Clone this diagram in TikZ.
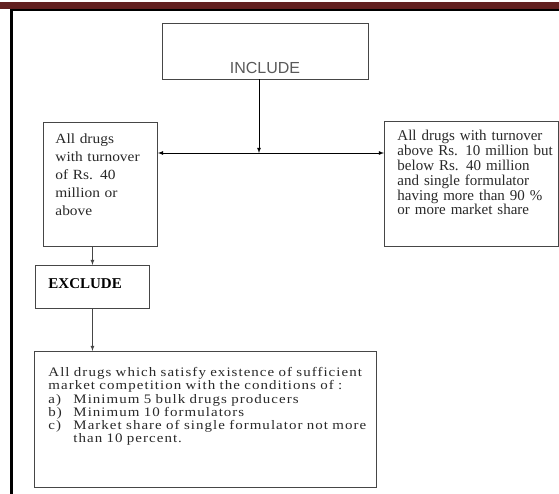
\documentclass[tikz,border=0pt]{standalone}
\usepackage{fontspec}
\setmainfont{Liberation Serif}
\newfontfamily\incfont{Liberation Sans}
\newfontfamily\leftfont[FakeStretch=1.1]{Liberation Serif}
\newfontfamily\compfont[FakeStretch=1.15,LetterSpace=8]{Liberation Serif}
\usetikzlibrary{arrows, positioning}
\definecolor{framered}{RGB}{98,32,32}
\definecolor{boxgray}{RGB}{70,70,70}
\definecolor{inkgray}{RGB}{40,40,40}
\tikzset{
  drugbox/.style={rectangle, draw=boxgray, line width=0.9pt, inner ysep=0pt, anchor=north west, align=left, text=inkgray},
  flowarrow/.style={draw=black, line width=0.8pt, -latex}
}

\begin{document}
\begin{tikzpicture}[x=1pt, y=-1pt]
\useasboundingbox (0,0) rectangle (559,494);

% Page frame
\fill[framered] (0,2) rectangle (559,9);
\draw[line width=2pt] (10,10) -- (559,10);
\draw[line width=3pt] (11.5,9) -- (11.5,494);

% Top box
\node[rectangle, draw=boxgray, line width=0.9pt, inner sep=0pt, minimum width=206pt, minimum height=56pt,
      text height=50pt, text depth=4pt, text=black!65, font=\incfont\fontsize{16}{18}\selectfont]
      (include) at (265,51) {INCLUDE};

% Turnover boxes
\node[drugbox, inner xsep=12pt, text width=90pt, text height=21.5pt, text depth=102.5pt,
      font=\leftfont\fontsize{14}{18}\selectfont] (bigturn) at (43,122) {
    All drugs\\
    with turnover\\
    of Rs. 40\\
    million or\\
    above
};
\node[drugbox, inner xsep=13pt, text width=148pt, text height=19pt, text depth=106pt,
      font=\fontsize{15}{14.9}\selectfont] (midturn) at (384,121) {
    \mbox{All drugs with turnover}\\
    \mbox{above Rs. 10 million but}\\
    \mbox{below Rs. 40 million}\\
    \mbox{and single formulator}\\
    \mbox{having more than 90 \%}\\
    \mbox{or more market share}
};

% Exclude branch
\node[drugbox, inner xsep=13pt, text width=88pt, text height=23pt, text depth=20pt,
      font=\bfseries\fontsize{15}{18}\selectfont, text=black] (exclude) at (35,265) {EXCLUDE};
\node[drugbox, inner xsep=14pt, text width=314pt, text height=25pt, text depth=111pt,
      font=\compfont\fontsize{13}{13.3}\selectfont] (compete) at (34,351) {
    All drugs which satisfy existence of sufficient\\
    market competition with the conditions of :\\
    \makebox[25pt][l]{a)}Minimum 5 bulk drugs producers\\
    \makebox[25pt][l]{b)}Minimum 10 formulators\\
    \makebox[25pt][l]{c)}Market share of single formulator not more\\
    \hspace*{25pt}than 10 percent.
};

% Connectors
\coordinate (split) at (259,153);
\draw[flowarrow] (include.south -| split) -- (split);
\draw[flowarrow, latex-latex] (split -| bigturn.east) -- (split -| midturn.west);
\draw[flowarrow, draw=boxgray] (exclude.north |- bigturn.south) -- (exclude.north);
\draw[flowarrow, draw=boxgray] (exclude.south) -- (exclude.south |- compete.north);
\end{tikzpicture}
\end{document}
